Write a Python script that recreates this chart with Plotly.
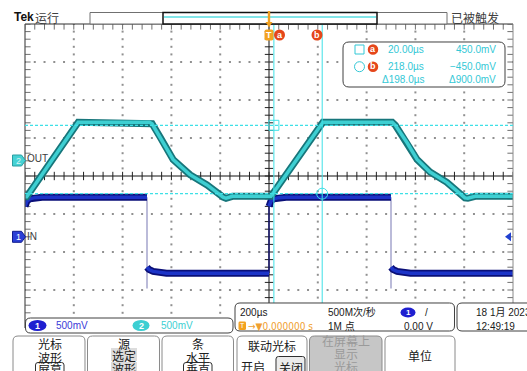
import numpy as np
import plotly.graph_objects as go

# ---------------- acquisition settings ----------------
TIME_PER_DIV = 200.0      # µs / div
VOLTS_PER_DIV = 0.5       # V / div, both channels
CH1_POSITION = -1.6       # div (ground marker of CH1)
CH2_POSITION = 0.434      # div (ground marker of CH2)
H_DIVS, V_DIVS = 10, 8

# ---------------- waveforms (time in µs, level in V) ----------------
# CH1 "IN": 1 kHz square wave; repeated times are the vertical edges
ch1_t = [-1000, -992, -980, -960, -930, -500, -500, -500,
         -492, -475, -450, -420, 0, 0,
         8, 20, 40, 70, 500, 500, 500,
         508, 525, 550, 580, 1000]
ch1_v = [0.40, 0.47, 0.50, 0.515, 0.52, 0.52, -0.68, -0.40,
         -0.43, -0.455, -0.47, -0.48, -0.48, 0.40,
         0.47, 0.50, 0.515, 0.52, 0.52, -0.68, -0.40,
         -0.43, -0.455, -0.47, -0.48, -0.48]

# CH2 "OUT": slew-limited response
ch2_t = [-1000, -993, -782, -765, -490, -479, -447, -393, -324, -254,
         -188, -176, -150, 0, 8, 221, 238, 505, 518, 566,
         607, 660, 729, 803, 815, 845, 1000]
ch2_v = [-0.49, -0.49, 0.49, 0.49, 0.49, 0.47, 0.30, 0.0, -0.20, -0.335,
         -0.495, -0.51, -0.485, -0.485, -0.485, 0.49, 0.49, 0.49, 0.45, 0.22,
         0.0, -0.165, -0.30, -0.505, -0.51, -0.485, -0.485]

# cursors (time µs, level V on CH2)
cursor_a = (20.0, 0.45)
cursor_b = (218.0, -0.45)

# ---------------- screen geometry (px) ----------------
W, H = 527, 371
PL, PR, PT, PB = 25, 513, 24, 328

X_HALF = TIME_PER_DIV * H_DIVS / 2
Y_HALF = V_DIVS / 2


def ch_range(pos):
    return [(-Y_HALF - pos) * VOLTS_PER_DIV, (Y_HALF - pos) * VOLTS_PER_DIV]


def P(x, y):
    return (x - PL) / (PR - PL), (PB - y) / (PB - PT)


def fmt(x, y):
    a, b = P(x, y)
    return f"{a:.5f},{b:.5f}"


def rrect(x0, y0, x1, y1, r, **kw):
    path = (f"M{fmt(x0 + r, y0)} L{fmt(x1 - r, y0)} Q{fmt(x1, y0)} {fmt(x1, y0 + r)} "
            f"L{fmt(x1, y1 - r)} Q{fmt(x1, y1)} {fmt(x1 - r, y1)} "
            f"L{fmt(x0 + r, y1)} Q{fmt(x0, y1)} {fmt(x0, y1 - r)} "
            f"L{fmt(x0, y0 + r)} Q{fmt(x0, y0)} {fmt(x0 + r, y0)} Z")
    return dict(type="path", xref="paper", yref="paper", path=path, **kw)


def poly(pts, **kw):
    path = "M" + " L".join(fmt(x, y) for x, y in pts) + " Z"
    return dict(type="path", xref="paper", yref="paper", path=path, **kw)


def ellipse(cx, cy, w, h, **kw):
    x0, y0 = P(cx - w / 2, cy + h / 2)
    x1, y1 = P(cx + w / 2, cy - h / 2)
    return dict(type="circle", xref="paper", yref="paper", x0=x0, y0=y0, x1=x1, y1=y1, **kw)


def seg(x0, y0, x1, y1, **kw):
    a0, b0 = P(x0, y0)
    a1, b1 = P(x1, y1)
    return dict(type="line", xref="paper", yref="paper", x0=a0, y0=b0, x1=a1, y1=b1, **kw)


LAT = "Liberation Sans, Noto Sans CJK SC"
CJK = "Noto Sans CJK SC"
annotations = []


def txt(x, y, s, size=10, color="#202020", anchor="left", family=LAT, bg=None):
    a, b = P(x, y)
    d = dict(x=a, y=b, xref="paper", yref="paper", text=s, showarrow=False,
             xanchor=anchor, yanchor="middle", borderpad=0,
             font=dict(size=size, color=color, family=family))
    if bg:
        d["bgcolor"] = bg
    annotations.append(d)


fig = go.Figure()

# ---------------- graticule ----------------
gx, gy = [], []
sub = np.round(np.arange(-Y_HALF, Y_HALF + 1e-9, 0.2), 3)
subx = np.round(np.arange(-H_DIVS / 2, H_DIVS / 2 + 1e-9, 0.2), 3)
for k in range(-H_DIVS // 2 + 1, H_DIVS // 2):
    if k == 0:
        continue
    for j in sub:
        gx.append(k * TIME_PER_DIV)
        gy.append(j)
for j in range(-V_DIVS // 2 + 1, V_DIVS // 2):
    if j == 0:
        continue
    for i in subx:
        gx.append(i * TIME_PER_DIV)
        gy.append(j)
fig.add_trace(go.Scatter(x=gx, y=gy, mode="markers", hoverinfo="skip",
                         marker=dict(size=2, color="#909090", symbol="square", line=dict(width=0))))

# ticks on the centre cross-hair and on the frame
tick_h = subx * TIME_PER_DIV
fig.add_trace(go.Scatter(x=tick_h, y=[0] * len(tick_h), mode="markers", hoverinfo="skip",
                         marker=dict(symbol="line-ns", size=6, color="#202020",
                                     line=dict(width=1, color="#202020"))))
fig.add_trace(go.Scatter(x=[0] * len(sub), y=sub, mode="markers", hoverinfo="skip",
                         marker=dict(symbol="line-ew", size=6, color="#202020",
                                     line=dict(width=1, color="#202020"))))
fig.add_trace(go.Scatter(x=tick_h, y=[Y_HALF] * len(tick_h), mode="markers", hoverinfo="skip",
                         marker=dict(symbol="line-ns", size=8, color="#707070",
                                     line=dict(width=1, color="#707070"))))
fig.add_trace(go.Scatter(x=[-X_HALF] * len(sub) + [X_HALF] * len(sub), y=list(sub) * 2,
                         mode="markers", hoverinfo="skip",
                         marker=dict(symbol="line-ew", size=8, color="#707070",
                                     line=dict(width=1, color="#707070"))))

# ---------------- CH1 trace ----------------
px_, py_ = [], []
rise_x, rise_y, fall_x, fall_y = [], [], [], []
i, n = 0, len(ch1_t)
while i < n:
    j = i
    while j + 1 < n and ch1_t[j + 1] == ch1_t[i]:
        j += 1
    if j > i:
        vals = ch1_v[i:j + 1]
        if vals[-1] > vals[0]:
            rise_x += [ch1_t[i], ch1_t[i], None]
            rise_y += [min(vals), max(vals), None]
        else:
            fall_x += [ch1_t[i], ch1_t[i], None]
            fall_y += [min(vals), max(vals), None]
        px_ += [ch1_t[i], None, ch1_t[j]]
        py_ += [ch1_v[i], None, ch1_v[j]]
    else:
        px_.append(ch1_t[i])
        py_.append(ch1_v[i])
    i = j + 1

fig.add_trace(go.Scatter(x=fall_x, y=fall_y, yaxis="y2", mode="lines", hoverinfo="skip",
                         line=dict(color="#a4a4cc", width=1.5)))
fig.add_trace(go.Scatter(x=rise_x, y=rise_y, yaxis="y2", mode="lines", hoverinfo="skip",
                         line=dict(color="#1a1a70", width=1.5)))
fig.add_trace(go.Scatter(x=px_, y=py_, yaxis="y2", mode="lines", hoverinfo="skip",
                         line=dict(color="#0a0f78", width=7)))
fig.add_trace(go.Scatter(x=px_, y=py_, yaxis="y2", mode="lines", hoverinfo="skip",
                         line=dict(color="#1c34c8", width=3.5)))

# ---------------- CH2 trace ----------------
fig.add_trace(go.Scatter(x=ch2_t, y=ch2_v, yaxis="y3", mode="lines", hoverinfo="skip",
                         line=dict(color="#17767b", width=7)))
fig.add_trace(go.Scatter(x=ch2_t, y=ch2_v, yaxis="y3", mode="lines", hoverinfo="skip",
                         line=dict(color="#3ecfd2", width=3.5)))

# cursor intersection markers
CUR = "#3ee0e6"
fig.add_trace(go.Scatter(x=[cursor_a[0]], y=[cursor_a[1]], yaxis="y3", mode="markers",
                         hoverinfo="skip",
                         marker=dict(symbol="square-open", size=10, color=CUR,
                                     line=dict(width=1, color=CUR))))
fig.add_trace(go.Scatter(x=[cursor_b[0]], y=[cursor_b[1]], yaxis="y3", mode="markers",
                         hoverinfo="skip",
                         marker=dict(symbol="circle-open", size=11, color=CUR,
                                     line=dict(width=1, color=CUR))))

shapes = []
# centre cross-hair (below traces)
shapes.append(dict(type="line", xref="paper", yref="y", x0=0, x1=1, y0=0, y1=0,
                   line=dict(color="#101010", width=1), layer="below"))
shapes.append(dict(type="line", xref="x", yref="paper", x0=0, x1=0, y0=0, y1=1,
                   line=dict(color="#101010", width=1), layer="below"))
# frame
shapes.append(seg(PL, PT, PR, PT, line=dict(color="#303030", width=1.2)))
shapes.append(seg(PL, PT, PL, PB, line=dict(color="#505050", width=1.2)))
shapes.append(seg(PR, PT, PR, PB, line=dict(color="#8a8a8a", width=1)))

# cursors
for t, v in (cursor_a, cursor_b):
    shapes.append(dict(type="line", xref="x", yref="paper", x0=t, x1=t, y0=0, y1=1,
                       line=dict(color=CUR, width=1)))
    shapes.append(dict(type="line", xref="paper", yref="y3", x0=0, x1=1, y0=v, y1=v,
                       line=dict(color=CUR, width=1.2, dash="3px,2px")))

# ---------------- top status bar ----------------
txt(12.5, 17, "<b>Tek</b>", size=12, color="#111111")
txt(33.5, 17, "运行", size=12, color="#404040", family=CJK)
shapes.append(dict(type="rect", xref="paper", yref="paper",
                   x0=P(90, 0)[0], x1=P(447, 0)[0], y0=P(0, 24)[1], y1=P(0, 12.5)[1],
                   line=dict(color="#707070", width=1), fillcolor="white"))
shapes.append(dict(type="rect", xref="paper", yref="paper",
                   x0=P(163, 0)[0], x1=P(377, 0)[0], y0=P(0, 24)[1], y1=P(0, 12.5)[1],
                   line=dict(color="#101010", width=1.5), fillcolor="white"))
shapes.append(seg(164, 17, 376, 17, line=dict(color="#58dce0", width=1.5)))
shapes.append(poly([(267.8, 11), (270.2, 11), (270.2, 22), (272.5, 22), (269, 27.5), (265.5, 22),
                    (267.8, 22)], fillcolor="#f0a020", line=dict(width=0)))
txt(450, 17, "已被触发", size=12, color="#404040", family=CJK)

# trigger / cursor labels under the top edge
shapes.append(rrect(264.5, 29.5, 273.5, 40.5, 2, fillcolor="#f3a21f", line=dict(width=0)))
txt(269, 35.3, "<b>T</b>", size=9, color="white", anchor="center")
RED = "#e5461a"
for cx, lab in ((279.5, "a"), (317, "b")):
    shapes.append(ellipse(cx, 35, 11, 11, fillcolor=RED, line=dict(width=0)))
    txt(cx, 34.7, f"<b>{lab}</b>", size=9, color="white", anchor="center")

# ---------------- cursor readout ----------------
CTXT = "#33c8d6"
shapes.append(rrect(343, 42, 505, 87, 6, fillcolor="white", line=dict(color="#404040", width=1)))
shapes.append(dict(type="rect", xref="paper", yref="paper",
                   x0=P(355, 0)[0], x1=P(364, 0)[0], y0=P(0, 54)[1], y1=P(0, 45)[1],
                   line=dict(color=CTXT, width=1)))
shapes.append(ellipse(359.5, 66.7, 10, 10, line=dict(color=CTXT, width=1)))
for cy, lab in ((49.5, "a"), (66.7, "b")):
    shapes.append(ellipse(373, cy, 10.5, 10.5, fillcolor=RED, line=dict(width=0)))
    txt(373, cy - 0.3, f"<b>{lab}</b>", size=9, color="white", anchor="center")
txt(425, 49.5, f"{cursor_a[0]:.2f}µs", color=CTXT, anchor="right")
txt(497, 49.5, f"{cursor_a[1] * 1000:.1f}mV", color=CTXT, anchor="right")
txt(425, 66.7, f"{cursor_b[0]:.1f}µs", color=CTXT, anchor="right")
txt(497, 66.7, f"−{abs(cursor_b[1]) * 1000:.1f}mV", color=CTXT, anchor="right")
txt(425, 79.5, f"Δ{cursor_b[0] - cursor_a[0]:.1f}µs", color=CTXT, anchor="right")
txt(497, 79.5, f"Δ{abs(cursor_a[1] - cursor_b[1]) * 1000:.1f}mV", color=CTXT, anchor="right")

# ---------------- channel ground markers ----------------
def ch_y(pos):
    return (PT + PB) / 2 - pos * (PB - PT) / V_DIVS


y2m = ch_y(CH2_POSITION) + 1
shapes.append(poly([(12.5, y2m - 5.5), (21.5, y2m - 5.5), (25.5, y2m), (21.5, y2m + 5.5), (12.5, y2m + 5.5)],
                   fillcolor="#46d2d4", line=dict(color="#2a9ea2", width=1)))
txt(18.5, y2m, "2", size=9, color="#d8f4f4", anchor="center")
txt(25.5, y2m - 2.5, "OUT", size=10, color="#404040")
y1m = ch_y(CH1_POSITION)
shapes.append(poly([(12.5, y1m - 5.5), (21.5, y1m - 5.5), (25.5, y1m), (21.5, y1m + 5.5), (12.5, y1m + 5.5)],
                   fillcolor="#2b3fd6", line=dict(color="#101c90", width=1)))
txt(18.5, y1m, "1", size=9, color="white", anchor="center")
txt(26, y1m, "IN", size=10, color="#404040")
# trigger level arrow (CH1, 0 V)
shapes.append(poly([(505, y1m), (511, y1m - 4.5), (511, y1m + 4.5)], fillcolor="#2040d0",
                   line=dict(width=0)))

# ---------------- bottom readouts ----------------
shapes.append(rrect(25.5, 318, 233, 333, 5, fillcolor="white", line=dict(color="#404040", width=1)))
shapes.append(ellipse(37.5, 325.5, 18, 11, fillcolor="#1f1fd0", line=dict(width=0)))
txt(37.5, 325.5, "<b>1</b>", size=9, color="white", anchor="center")
txt(55, 325.5, f"{VOLTS_PER_DIV * 1000:.0f}mV", size=10, color="#3a3ad8")
shapes.append(ellipse(141, 325.5, 17, 11, fillcolor="#3ccfd2", line=dict(width=0)))
txt(141, 325.5, "<b>2</b>", size=9, color="white", anchor="center")
txt(160, 325.5, f"{VOLTS_PER_DIV * 1000:.0f}mV", size=10, color="#3ccfd2")

shapes.append(rrect(235, 303, 454.5, 331, 5, fillcolor="white", line=dict(color="#404040", width=1)))
txt(238.5, 312, f"{TIME_PER_DIV:.0f}µs", size=10, color="#202020")
shapes.append(rrect(238.5, 321.5, 246, 330, 1.5, fillcolor="#f3a21f", line=dict(width=0)))
txt(242.3, 325.8, "T", size=7, color="white", anchor="center")
txt(246.5, 326, "→▼0.000000 s", size=10, color="#f0a030", family="DejaVu Sans Condensed, DejaVu Sans")
txt(327, 312, "500M次/秒", size=10, color="#202020")
txt(327, 326, "1M 点", size=10, color="#202020")
shapes.append(ellipse(408, 312.5, 15, 10, fillcolor="#1f1fd0", line=dict(width=0)))
txt(408, 312.5, "<b>1</b>", size=8, color="white", anchor="center")
txt(424, 312, "/", size=10, color="#202020")
txt(403, 326, "0.00 V", size=10, color="#202020")

shapes.append(rrect(457, 303, 540, 331, 5, fillcolor="white", line=dict(color="#404040", width=1)))
txt(475, 312, "18 1月 2023", size=10, color="#202020")
txt(475, 326, "12:49:19", size=10, color="#202020")

# ---------------- soft-key menu ----------------
KEY = dict(color="#8a8a8a", width=1)
for x0, x1, fill in ((13, 85, "white"), (87.5, 159.5, "white"), (162, 233.5, "white"),
                     (237, 307, "white"), (309.5, 382, "#c6c6c6"), (385, 455, "white")):
    shapes.append(rrect(x0, 336, x1, 385, 5, fillcolor=fill, line=KEY))

shapes.append(rrect(35.5, 362.5, 64, 380, 2.5, fillcolor="white", line=dict(color="#303030", width=1)))
shapes.append(dict(type="rect", xref="paper", yref="paper", x0=P(111, 0)[0], x1=P(137, 0)[0],
                   y0=P(0, 361)[1], y1=P(0, 348)[1], fillcolor="#dcdcdc", line=dict(width=0)))
shapes.append(dict(type="rect", xref="paper", yref="paper", x0=P(111, 0)[0], x1=P(137, 0)[0],
                   y0=P(0, 376)[1], y1=P(0, 362)[1], fillcolor="#dcdcdc", line=dict(width=0)))
shapes.append(rrect(183.5, 362.5, 212, 380, 2.5, fillcolor="white", line=dict(color="#303030", width=1)))
shapes.append(rrect(276, 356.5, 305, 380, 2.5, fillcolor="#ececec", line=dict(color="#303030", width=1)))

KF = dict(size=12, color="#202020", anchor="center", family=CJK)
txt(49.5, 343.5, "光标", **KF)
txt(49.5, 357, "波形", **KF)
txt(49.5, 369.5, "屏幕", **KF)
txt(123.5, 343, "源", **KF)
txt(123.5, 355, "选定", **KF)
txt(123.5, 368, "波形", **KF)
txt(197.5, 343, "条", **KF)
txt(197.5, 357, "水平", **KF)
txt(197.5, 369.5, "垂直", **KF)
txt(272, 345, "联动光标", **KF)
txt(253, 366.5, "开启", **KF)
txt(290.5, 367, "关闭", **KF)
GF = dict(size=12, color="#9a9a9a", anchor="center", family=CJK)
txt(345.5, 340.5, "在屏幕上", **GF)
txt(345.5, 353.5, "显示", **GF)
txt(345.5, 366.5, "光标", **GF)
txt(420, 355, "单位", **KF)

fig.update_layout(
    width=W, height=H,
    margin=dict(l=PL, r=W - PR, t=PT, b=H - PB, pad=0),
    paper_bgcolor="white", plot_bgcolor="white",
    showlegend=False,
    xaxis=dict(range=[-X_HALF, X_HALF], visible=False, fixedrange=True),
    yaxis=dict(range=[-Y_HALF, Y_HALF], visible=False, fixedrange=True),
    yaxis2=dict(range=ch_range(CH1_POSITION), overlaying="y", anchor="x", visible=False),
    yaxis3=dict(range=ch_range(CH2_POSITION), overlaying="y", anchor="x", visible=False),
    shapes=shapes,
    annotations=annotations,
)

fig.write_html("out.html", config=dict(displayModeBar=False))
